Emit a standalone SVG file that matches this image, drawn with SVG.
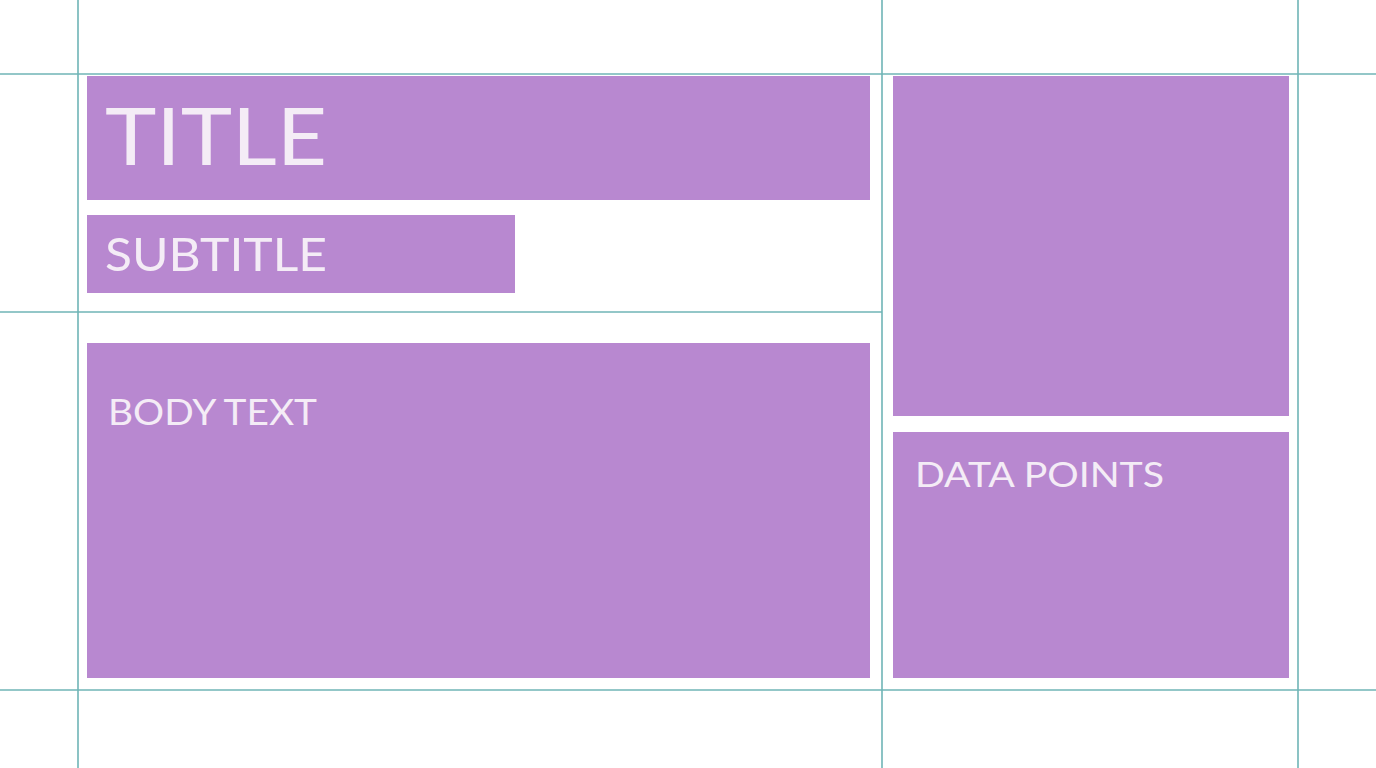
<svg xmlns="http://www.w3.org/2000/svg" width="1376" height="768" viewBox="0 0 1376 768">
<style>
.grid{stroke:#6fb4b6;stroke-width:1.6;fill:none}
.box{fill:#b888d0}
.lbl{font-family:Lato,"Open Sans","Liberation Sans",sans-serif;font-weight:400;fill:#f4ecf6}
</style>
<rect width="1376" height="768" fill="#ffffff"/>
<g id="connectors">
<line class="grid" x1="78" y1="0" x2="78" y2="768"/>
<line class="grid" x1="882" y1="0" x2="882" y2="768"/>
<line class="grid" x1="1298" y1="0" x2="1298" y2="768"/>
<line class="grid" x1="0" y1="74" x2="1376" y2="74"/>
<line class="grid" x1="0" y1="312" x2="882" y2="312"/>
<line class="grid" x1="0" y1="690" x2="1376" y2="690"/>
</g>
<g id="title">
<rect class="box" x="87" y="76" width="783" height="124"/>
<text class="lbl" x="105" y="165" font-size="79" textLength="222" lengthAdjust="spacingAndGlyphs">TITLE</text>
</g>
<g id="subtitle">
<rect class="box" x="87" y="215" width="428" height="78"/>
<text class="lbl" x="105" y="271" font-size="47" textLength="222" lengthAdjust="spacingAndGlyphs">SUBTITLE</text>
</g>
<g id="body">
<rect class="box" x="87" y="343" width="783" height="335"/>
<text class="lbl" x="108" y="425" font-size="36" textLength="209" lengthAdjust="spacingAndGlyphs">BODY TEXT</text>
</g>
<g id="image">
<rect class="box" x="893" y="76" width="396" height="340"/>
</g>
<g id="data">
<rect class="box" x="893" y="432" width="396" height="246"/>
<text class="lbl" x="915" y="487" font-size="35" textLength="249" lengthAdjust="spacingAndGlyphs">DATA POINTS</text>
</g>
</svg>
